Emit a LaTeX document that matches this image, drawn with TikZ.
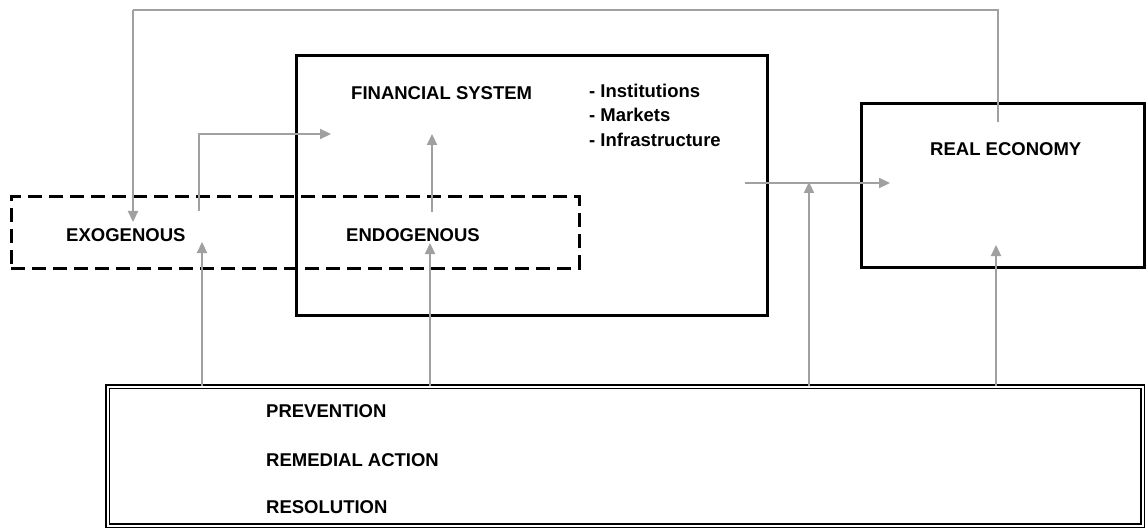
\documentclass[tikz,border=0pt]{standalone}
\usepackage{fontspec}
\setmainfont{Liberation Sans}
\usetikzlibrary{arrows.meta}
\definecolor{linegray}{HTML}{A0A0A0}
\tikzset{
  boxframe/.style={draw=black, line width=3pt, inner sep=0pt},
  dashframe/.style={draw=black, line width=3pt, dash pattern=on 14pt off 7pt, inner sep=0pt},
  dblframe/.style={draw=black, double, double distance=2pt, line width=1.5pt, inner sep=0pt},
  lbl/.style={anchor=base west, inner sep=0pt, font=\fontsize{18.5pt}{22pt}\selectfont\bfseries},
  flow/.style={draw=linegray, line width=2.2pt, -{Triangle[length=11pt,width=10pt]}},
  thinflow/.style={draw=linegray, line width=1.3pt},
}
\begin{document}
\begin{tikzpicture}[x=1pt,y=-1pt]
\useasboundingbox (0,0) rectangle (1147,529);
% boxes
\node[boxframe, minimum width=471pt, minimum height=259pt] (fin) at (531.5,185.5) {};
\node[boxframe, minimum width=283pt, minimum height=163pt] (real) at (1002.5,185.5) {};
\node[dashframe, minimum width=568pt, minimum height=71pt] (shock) at (295,232.5) {};
\node[dblframe, minimum width=1035pt, minimum height=139pt] (policy) at (625,456) {};
% labels
\node[lbl] (finlbl) at (351,100) {FINANCIAL SYSTEM};
\node[lbl] (inst) at (589,98) {- Institutions};
\node[lbl] (mark) at (589,122) {- Markets};
\node[lbl] (infra) at (589,146.5) {- Infrastructure};
\node[lbl] (reallbl) at (930,156) {REAL ECONOMY};
\node[lbl] (exo) at (66,241) {EXOGENOUS};
\node[lbl] (endo) at (346,241) {ENDOGENOUS};
\node[lbl] (prev) at (266,417) {PREVENTION};
\node[lbl] (rem) at (266,466) {REMEDIAL ACTION};
\node[lbl] (res) at (266,513) {RESOLUTION};
% coordinates for connector ends
\coordinate (fbS) at (998,122);
\coordinate (fbTR) at (998,10);
\coordinate (fbTL) at (133,10);
\coordinate (fbE) at (133,222);
\coordinate (exoS) at (199,211);
\coordinate (exoC) at (199,134);
\coordinate (exoE) at (331,134);
\coordinate (endoS) at (432,212);
\coordinate (endoE) at (432,134);
\coordinate (trS) at (745,183);
\coordinate (trE) at (890,183);
\coordinate (trJ) at (809,183);
\coordinate (p1E) at (202,242);
\coordinate (p2E) at (430,243);
\coordinate (p4E) at (996,245);
% connectors
\draw[thinflow] (fbS) -- (fbTR) -- (fbTL);
\draw[flow] (fbTL) -- (fbE);
\draw[flow] (exoS) -- (exoC) -- (exoE);
\draw[flow] (endoS) -- (endoE);
\draw[flow] (trS) -- (trE);
\draw[flow] (policy.north -| p1E) -- (p1E);
\draw[flow] (policy.north -| p2E) -- (p2E);
\draw[flow] (policy.north -| trJ) -- ([yshift=1pt]trJ);
\draw[flow] (policy.north -| p4E) -- (p4E);
\end{tikzpicture}
\end{document}
